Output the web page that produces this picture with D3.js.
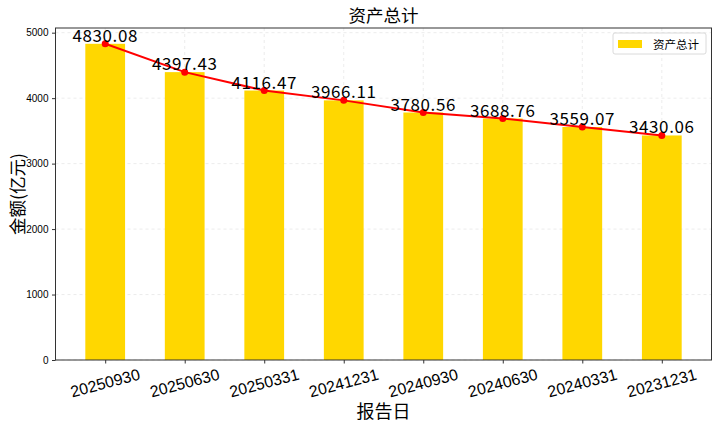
<!DOCTYPE html>
<html><head><meta charset="utf-8">
<script src="https://cdn.jsdelivr.net/npm/d3@7/dist/d3.min.js"></script>
<style>body{margin:0;background:#fff}svg{display:block}</style>
</head><body>
<script>
const categories = ["20250930","20250630","20250331","20241231","20240930","20240630","20240331","20231231"];
const values = [4830.08,4397.43,4116.47,3966.11,3780.56,3688.76,3559.07,3430.06];
const yTicks = [0,1000,2000,3000,4000,5000];
const title = "资产总计";
const seriesName = "资产总计";
const yLabel = "金额(亿元)";
const xLabel = "报告日";

const W = 719, H = 428;
const m = {left:55.5, right:711.5, top:28, bottom:360};
const cjk = "'Noto Sans CJK SC', 'DejaVu Sans', sans-serif";
const lat = "'Liberation Sans', Arial, sans-serif";
const svg = d3.select("body").append("svg").attr("width",W).attr("height",H);

const n = categories.length;
const x = d3.scaleLinear().domain([-0.625, n-1+0.625]).range([m.left, m.right]);
const y = d3.scaleLinear().domain([0, d3.max(values)*1.05]).range([m.bottom, m.top]);
const bw = 0.5;

// grid
const g = svg.append("g");
g.selectAll(".gy").data(yTicks).join("line")
  .attr("x1",m.left).attr("x2",m.right).attr("y1",d=>y(d)).attr("y2",d=>y(d))
  .attr("stroke","#b0b0b0").attr("stroke-opacity",0.3).attr("stroke-dasharray","3,3").attr("stroke-width",0.8);
g.selectAll(".gx").data(categories).join("line")
  .attr("x1",(d,i)=>x(i)).attr("x2",(d,i)=>x(i)).attr("y1",m.top).attr("y2",m.bottom)
  .attr("stroke","#b0b0b0").attr("stroke-opacity",0.3).attr("stroke-dasharray","3,3").attr("stroke-width",0.8);

// bars
svg.append("g").selectAll("rect").data(values).join("rect")
  .attr("x",(d,i)=>x(i-bw/2)).attr("width",x(bw)-x(0))
  .attr("y",d=>y(d)).attr("height",d=>m.bottom-y(d))
  .attr("fill","#FFD700");

// line
const line = d3.line().x((d,i)=>x(i)).y(d=>y(d));
svg.append("path").datum(values).attr("d",line).attr("fill","none").attr("stroke","#ff0000").attr("stroke-width",2);
svg.append("g").selectAll("circle").data(values).join("circle")
  .attr("cx",(d,i)=>x(i)).attr("cy",d=>y(d)).attr("r",3.5).attr("fill","#ff0000");

// value labels
svg.append("g").selectAll("text").data(values).join("text")
  .attr("x",(d,i)=>x(i)).attr("y",d=>y(d)-2)
  .attr("text-anchor","middle").attr("font-family",cjk).attr("font-size",17).attr("letter-spacing",0.6).attr("fill","#000")
  .text(d=>d.toFixed(2));

// frame
svg.append("rect").attr("x",m.left).attr("y",m.top).attr("width",m.right-m.left).attr("height",m.bottom-m.top)
  .attr("fill","none").attr("stroke","#333").attr("stroke-width",1);

// y axis
const ya = svg.append("g").attr("transform",`translate(${m.left},0)`)
  .call(d3.axisLeft(y).tickValues(yTicks).tickSize(3.5).tickPadding(3.5).tickFormat(d3.format("d")));
ya.select(".domain").remove();
ya.selectAll("line").attr("stroke","#333");
ya.selectAll("text").attr("font-family",lat).attr("font-size",10).attr("fill","#000");

// x axis
const xa = svg.append("g").attr("transform",`translate(0,${m.bottom})`)
  .call(d3.axisBottom(x).tickValues(d3.range(n)).tickSize(3.5).tickFormat(i=>categories[i]));
xa.select(".domain").remove();
xa.selectAll("line").attr("stroke","#333");
xa.selectAll("text").remove();
svg.append("g").selectAll("text").data(categories).join("text")
  .attr("transform",(d,i)=>`translate(${x(i)},${m.bottom+23}) rotate(-15)`)
  .attr("text-anchor","middle").attr("dominant-baseline","central")
  .attr("font-family",lat).attr("font-size",16).attr("fill","#000")
  .text(d=>d);

// title and labels
svg.append("text").attr("x",(m.left+m.right)/2).attr("y",22).attr("text-anchor","middle")
  .attr("font-family",cjk).attr("font-size",17.5).text(title);
svg.append("text").attr("x",(m.left+m.right)/2).attr("y",418).attr("text-anchor","middle")
  .attr("font-family",cjk).attr("font-size",18).text(xLabel);
svg.append("text").attr("transform",`translate(24,${(m.top+m.bottom)/2}) rotate(-90)`).attr("text-anchor","middle")
  .attr("font-family",cjk).attr("font-size",17.5).text(yLabel);

// legend
const lg = svg.append("g").attr("transform","translate(613,33)");
lg.append("rect").attr("width",93).attr("height",21).attr("rx",2).attr("fill","#fff").attr("fill-opacity",0.8)
  .attr("stroke","#d0d0d0").attr("stroke-width",0.8);
lg.append("rect").attr("x",5).attr("y",7).attr("width",24).attr("height",8).attr("fill","#FFD700");
lg.append("text").attr("x",40).attr("y",15.5).attr("font-family",cjk).attr("font-size",11.5).text(seriesName);
</script>
</body></html>
